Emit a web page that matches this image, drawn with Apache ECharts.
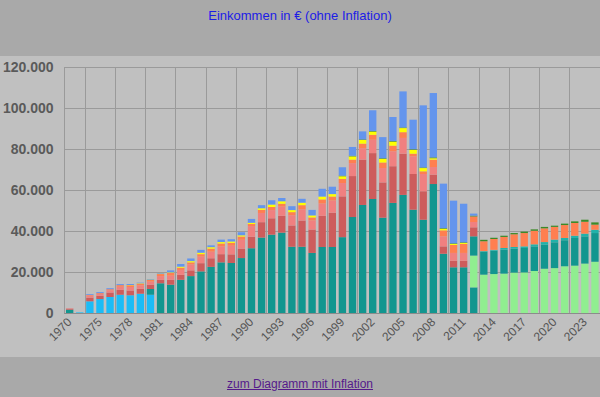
<!DOCTYPE html>
<html>
<head>
<meta charset="utf-8">
<script src="https://cdn.jsdelivr.net/npm/echarts@6/dist/echarts.min.js"></script>
<style>
  body { margin: 0; background: #a9a9a9; font-family: Arial, "Liberation Sans", sans-serif; }
  #band { position: absolute; left: 0; top: 56px; width: 600px; height: 301px; background: #c0c0c0; }
  #main { position: absolute; left: 0; top: 0; width: 600px; height: 397px; }
  #linkbox { position: absolute; left: 0; top: 377px; width: 600px; text-align: center; font-size: 12px; }
  #linkbox a { color: #551a8b; }
</style>
</head>
<body>
<div id="band"></div>
<div id="main"></div>
<div id="linkbox"><a href="#">zum Diagramm mit Inflation</a></div>
<script>
var years = ['1970', '1973', '1974', '1975', '1976', '1977', '1978', '1979', '1980', '1981',
    '1982', '1983', '1984', '1985', '1986', '1987', '1988', '1989', '1990', '1991',
    '1992', '1993', '1994', '1995', '1996', '1997', '1998', '1999', '2000', '2001',
    '2002', '2003', '2004', '2005', '2006', '2007', '2008', '2009', '2010', '2011',
    '2012', '2013', '2014', '2015', '2016', '2017', '2018', '2019', '2020', '2021',
    '2022', '2023', '2024'];

var yTicks = [0, 20000, 40000, 60000, 80000, 100000, 120000];

// Stapel von unten nach oben
var ausbildung = [0, 300, 5700, 6800, 7800, 8900, 8600, 9400, 8900, 0,
    0, 0, 0, 0, 0, 0, 0, 0, 0, 0,
    0, 0, 0, 0, 0, 0, 0, 0, 0, 0,
    0, 0, 0, 0, 0, 0, 0, 0, 0, 0,
    0, 0, 0, 0, 0, 0, 0, 0, 0, 0,
    0, 0, 0];
var gehalt = [1600, 0, 0, 0, 0, 0, 0, 0, 2800, 14500,
    13800, 16200, 18000, 20300, 22500, 24700, 24400, 26800, 31600, 36800,
    38200, 39200, 32300, 32300, 29300, 32200, 32200, 37000, 46800, 52700,
    55600, 46500, 53700, 57600, 50400, 45500, 62900, 28900, 22300, 22300,
    12500, 0, 0, 0, 0, 0, 0, 0, 0, 0,
    0, 0, 0];
var rente = [0, 0, 0, 0, 0, 0, 0, 0, 0, 0,
    0, 0, 0, 0, 0, 0, 0, 0, 0, 0,
    0, 0, 0, 0, 0, 0, 0, 0, 0, 0,
    0, 0, 0, 0, 0, 0, 0, 0, 0, 0,
    15500, 18700, 19000, 19200, 19700, 19800, 20500, 21600, 21900, 22800,
    23100, 24100, 25000];
var betriebsrente = [0, 0, 0, 0, 0, 0, 0, 0, 0, 0,
    0, 0, 0, 0, 0, 0, 0, 0, 0, 0,
    0, 0, 0, 0, 0, 0, 0, 0, 0, 0,
    0, 0, 0, 0, 0, 0, 0, 0, 0, 0,
    9400, 11200, 11400, 11700, 11700, 11900, 12000, 11700, 12600, 12700,
    13500, 13300, 14000];
var zusatzrente = [0, 0, 0, 0, 0, 0, 0, 0, 0, 0,
    0, 0, 0, 0, 0, 0, 0, 0, 0, 0,
    0, 0, 0, 0, 0, 0, 0, 0, 0, 0,
    0, 0, 0, 0, 0, 0, 0, 0, 0, 0,
    0, 300, 400, 800, 800, 800, 1000, 1300, 1300, 1100,
    1100, 1300, 1600];
var steuer = [500, 0, 1800, 1600, 2200, 2400, 2400, 2400, 2100, 1700,
    2400, 2400, 2800, 4000, 4200, 4000, 4200, 4600, 5600, 7500,
    8000, 8200, 10400, 12800, 11400, 15200, 16700, 19900, 20000, 22100,
    22400, 17200, 17900, 20100, 17400, 13900, 4600, 3600, 3200, 3200,
    4400, 0, 0, 0, 0, 0, 0, 0, 0, 0,
    0, 0, 0];
var rentenvers = [200, 0, 1000, 900, 1100, 1500, 1700, 1700, 1500, 1800,
    2000, 2400, 2900, 3200, 3200, 3800, 4200, 4300, 5200, 4500,
    4000, 4500, 5000, 5500, 4500, 6000, 6000, 6500, 6300, 5600,
    6500, 7000, 7300, 7700, 8600, 8400, 3700, 4900, 3800, 3800,
    2600, 0, 0, 0, 0, 0, 0, 0, 0, 0,
    0, 0, 0];
var krankenvers = [0, 0, 300, 400, 500, 800, 800, 800, 800, 1000,
    1300, 1100, 1000, 1200, 1500, 1400, 1400, 1600, 1000, 1500,
    1500, 1400, 1500, 2000, 1400, 2000, 1900, 2000, 1700, 2200,
    2400, 2700, 2700, 2800, 1300, 1300, 3600, 2900, 3900, 4400,
    2700, 4800, 5300, 5400, 6200, 6500, 6600, 6700, 6200, 6300,
    6200, 5800, 2500];
var soli = [0, 0, 0, 0, 0, 0, 200, 200, 200, 200,
    300, 500, 600, 700, 700, 700, 700, 600, 600, 800,
    1200, 1200, 1000, 1200, 1000, 1400, 1200, 1300, 1600, 1800,
    1600, 1800, 2000, 2000, 1900, 1600, 700, 800, 500, 500,
    0, 0, 0, 0, 0, 0, 0, 0, 0, 0,
    0, 0, 0];
var pflegevers = [0, 0, 0, 0, 0, 0, 0, 0, 0, 0,
    0, 0, 0, 0, 0, 0, 0, 0, 0, 0,
    0, 0, 0, 0, 0, 0, 0, 300, 300, 300,
    300, 300, 300, 300, 300, 300, 400, 300, 300, 300,
    400, 700, 600, 600, 600, 700, 700, 700, 600, 700,
    800, 1000, 1100];
var bonus = [0, 0, 400, 500, 500, 500, 400, 300, 300, 300,
    1000, 1300, 1300, 1400, 900, 1200, 1100, 1500, 1900, 1500,
    2100, 1600, 1900, 1900, 2700, 3800, 3600, 4100, 4300, 3900,
    10100, 10300, 11700, 17600, 14400, 30300, 31400, 21700, 20800, 18800,
    1000, 0, 0, 0, 0, 0, 0, 0, 0, 0,
    0, 0, 0];

var stack = [
    ['Ausbildung', ausbildung, '#1bbcf6'],
    ['Gehalt', gehalt, '#12968f'],
    ['Rente', rente, '#90ee90'],
    ['Betriebsrente', betriebsrente, '#12968f'],
    ['Zusatzrente', zusatzrente, '#20b2aa'],
    ['Steuer', steuer, '#cd5c5c'],
    ['Rentenversicherung', rentenvers, '#f08080'],
    ['Krankenversicherung', krankenvers, '#ff7f50'],
    ['Soli', soli, '#ffff00'],
    ['Pflegeversicherung', pflegevers, '#3c8a28'],
    ['Bonus', bonus, '#6495ed']
];

var dom = document.getElementById("main");
var myChart = echarts.init(dom, null, {renderer: 'svg'});

function gridIdx(idx) {    // Linien wie im Original: links und dann alle 3 Kategorien
    return idx === 0 || idx % 3 === 2;
}

var series = [];
for (var i = 0; i < stack.length; i++) {
    series.push({
        name: stack[i][0],
        type: 'bar',
        stack: 'summe',
        barCategoryGap: '27%',
        itemStyle: {color: stack[i][2]},
        data: stack[i][1]
    });
}

option = {
    backgroundColor: 'transparent',
    animation: false,
    title: {
        text: 'Einkommen in € (ohne Inflation)',
        left: 'center',
        top: 4,
        textStyle: {
            color: '#1c1ce6',
            fontSize: 13,
            fontWeight: 'normal',
            fontFamily: 'Arial, Liberation Sans, sans-serif'
        }
    },
    grid: {
        left: 62,
        right: 0,
        top: 67,
        bottom: 84
    },
    xAxis: {
        type: 'category',
        data: years,
        axisLine: {lineStyle: {color: '#8c8c8c'}},
        axisTick: {
            interval: gridIdx,
            length: 5,
            lineStyle: {color: '#8c8c8c'}
        },
        axisLabel: {
            interval: 2,
            rotate: 45,
            margin: 7,
            color: '#555',
            fontSize: 12,
            fontFamily: 'Arial, Liberation Sans, sans-serif'
        },
        splitLine: {
            show: true,
            interval: gridIdx,
            lineStyle: {color: '#9a9a9a'}
        }
    },
    yAxis: {
        type: 'value',
        min: yTicks[0],
        max: yTicks[yTicks.length - 1],
        interval: yTicks[1] - yTicks[0],
        axisLine: {show: false},
        axisLabel: {
            margin: 11,
            color: '#5a5a5a',
            fontSize: 14,
            fontWeight: 'bold',
            fontFamily: 'Arial, Liberation Sans, sans-serif',
            formatter: function (v) {
                return String(v).replace(/\B(?=(\d{3})+(?!\d))/g, '.');
            }
        },
        splitLine: {lineStyle: {color: '#9a9a9a'}}
    },
    series: series
};

if (option && typeof option === "object") {
    myChart.setOption(option, true);
}
</script>
</body>
</html>
